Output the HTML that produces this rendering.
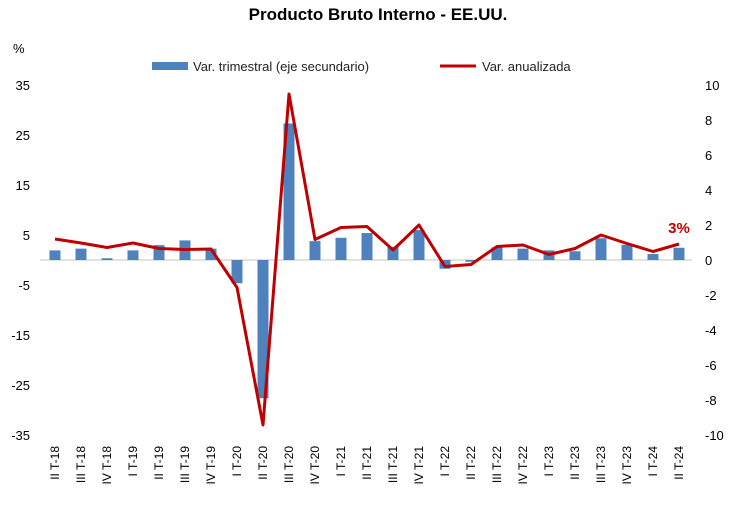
<!DOCTYPE html>
<html><head><meta charset="utf-8"><style>
body{margin:0;background:#fff;}
svg text{font-family:"Liberation Sans",sans-serif;}
</style></head><body>
<svg id="c" width="736" height="508" xmlns="http://www.w3.org/2000/svg">
<text x="378" y="20" text-anchor="middle" font-size="17" font-weight="bold">Producto Bruto Interno - EE.UU.</text>
<text x="13" y="53" font-size="13">%</text>
<g>
<rect x="152" y="62" width="36" height="8" fill="#4f81bd"/>
<text x="193" y="71" font-size="13" fill="#222">Var. trimestral (eje secundario)</text>
<line x1="440" y1="66" x2="476" y2="66" stroke="#c00000" stroke-width="3"/>
<text x="482" y="71" font-size="13" fill="#222">Var. anualizada</text>
</g>
<g id="axes"></g><g id="bars"></g><g id="line"></g>
</svg>
<script>
const categories=["II T-18","III T-18","IV T-18","I T-19","II T-19","III T-19","IV T-19","I T-20","II T-20","III T-20","IV T-20","I T-21","II T-21","III T-21","IV T-21","I T-22","II T-22","III T-22","IV T-22","I T-23","II T-23","III T-23","IV T-23","I T-24","II T-24"];
const quarterly=[0.55,0.65,0.1,0.55,0.85,1.12,0.65,-1.33,-7.9,7.8,1.08,1.27,1.54,0.76,1.71,-0.5,-0.1,0.72,0.65,0.55,0.5,1.24,0.87,0.34,0.7];
const annualized=[4.2,3.4,2.5,3.4,2.3,2.1,2.2,-5.5,-33,33.2,4.1,6.5,6.7,2.0,7.0,-1.3,-0.9,2.7,3.0,1.1,2.3,5.0,3.3,1.7,3.2];
const leftTicks=[35,25,15,5,-5,-15,-25,-35];
const rightTicks=[10,8,6,4,2,0,-2,-4,-6,-8,-10];
const lastLabel="3%";
const NS="http://www.w3.org/2000/svg";
const yL=v=>260-v*5, yR=v=>260-v*17.5, x=i=>55+i*26;
function mk(p,t,a){const e=document.createElementNS(NS,t);for(const k in a)e.setAttribute(k,a[k]);p.appendChild(e);return e;}
const ax=document.getElementById('axes'),bg=document.getElementById('bars'),lg=document.getElementById('line');
const z=mk(ax,'line',{x1:40,x2:692,y1:yL(0),y2:yL(0),stroke:'#d9d9d9','stroke-width':1.5});


leftTicks.forEach(v=>{const t=mk(ax,'text',{x:30,y:yL(v)+5,'text-anchor':'end','font-size':13});t.textContent=v;

});
rightTicks.forEach(v=>{const t=mk(ax,'text',{x:705,y:yR(v)+5,'font-size':13});t.textContent=v;

});
categories.forEach((c,i)=>{const t=mk(ax,'text',{x:0,y:0,'text-anchor':'end','font-size':12,transform:`translate(${x(i)+4},446) rotate(-90)`});t.textContent=c;

});
quarterly.forEach((v,i)=>{const y0=yR(0),y1=yR(v);const r=mk(bg,'rect',{x:x(i)-5.5,y:Math.min(y0,y1),width:11,height:Math.abs(y1-y0),fill:'#4f81bd'});

});
const pl=mk(lg,'polyline',{points:annualized.map((v,i)=>x(i)+','+yL(v)).join(' '),fill:'none',stroke:'#c00000','stroke-width':3,'stroke-linejoin':'round'});


const n=annualized.length-1;
const lb=mk(lg,'text',{x:x(n),y:yL(annualized[n])-11,'text-anchor':'middle','font-size':15,'font-weight':'bold',fill:'#c00000'});lb.textContent=lastLabel;


</script>
</body></html>
